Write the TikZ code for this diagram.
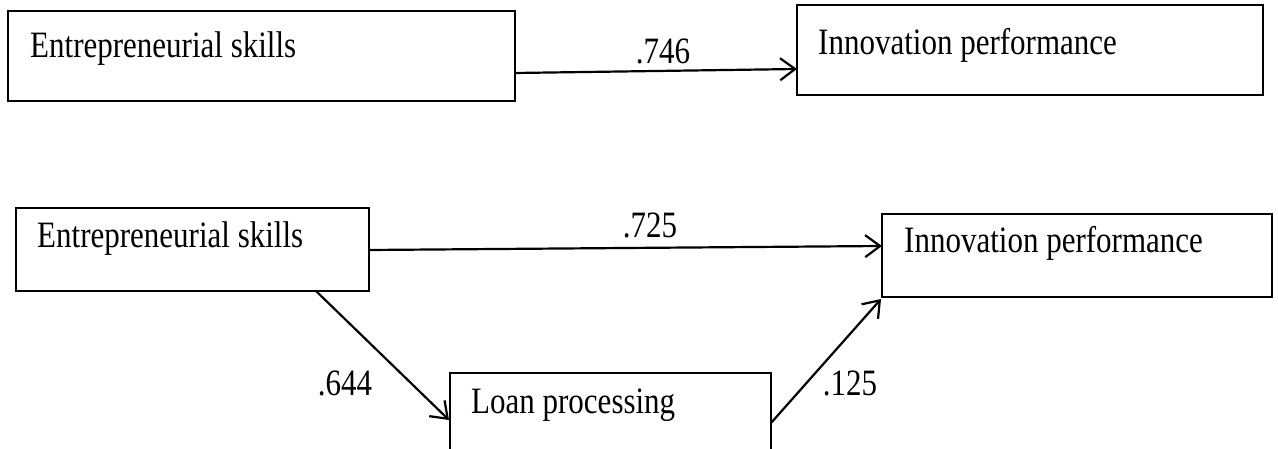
\documentclass[tikz,border=0pt]{standalone}
\usepackage{fontspec}
\setmainfont{Liberation Serif}
\usetikzlibrary{arrows.meta}
\newcommand\tallt[1]{\scalebox{1}[1.2]{#1}}
\begin{document}
\begin{tikzpicture}[x=1pt,y=-1pt,
  frame/.style={line width=1.8pt},
  txt/.style={anchor=base west,inner sep=0pt,font=\fontsize{31}{36}\selectfont},
  lbl/.style={anchor=base,inner sep=0pt,font=\fontsize{31}{36}\selectfont},
  link/.style={line width=2.2pt,-{Straight Barb[length=15pt,width=22pt,line width=2.2pt]}}]
\useasboundingbox (0,0) rectangle (1278,449);
\clip (0,0) rectangle (1278,449);
% upper model: direct effect
\draw[frame] (8,11) rectangle (515,101);
\draw[frame] (797,5) rectangle (1263,95);
\node[txt] (t1) at (30,58) {\tallt{Entrepreneurial skills}};
\node[txt] (t2) at (818,55) {\tallt{Innovation performance}};
\coordinate (es1) at (515,73);
\coordinate (ip1) at (797,69);
\draw[link] (es1) -- (ip1);
\node[lbl] (l746) at (663,64) {\tallt{.746}};
% lower model: mediation through loan processing
\draw[frame] (16,208) rectangle (369,291);
\draw[frame] (882,214) rectangle (1272,297);
\draw[frame] (450,373) rectangle (771,470);
\node[txt] (t3) at (37,248) {\tallt{Entrepreneurial skills}};
\node[txt] (t4) at (904,253) {\tallt{Innovation performance}};
\node[txt] (t5) at (471,413) {\tallt{Loan processing}};
\coordinate (es2) at (369,250);
\coordinate (ip2) at (882,246);
\coordinate (es2b) at (316,291);
\coordinate (lp2) at (449,420);
\coordinate (lp2b) at (771,423);
\coordinate (ip2b) at (881,299);
\draw[link] (es2) -- (ip2);
\draw[link] (es2b) -- (lp2);
\draw[link] (lp2b) -- (ip2b);
\node[lbl] (l725) at (650,238) {\tallt{.725}};
\node[lbl] (l644) at (345,395) {\tallt{.644}};
\node[lbl] (l125) at (850,395) {\tallt{.125}};
\end{tikzpicture}
\end{document}
